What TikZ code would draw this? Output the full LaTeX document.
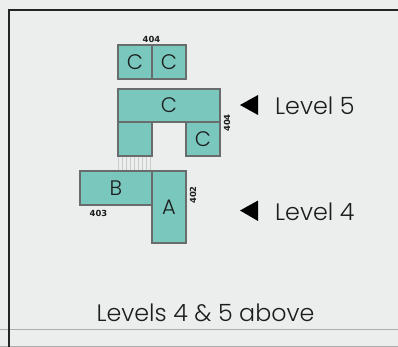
\documentclass[tikz,border=0pt]{standalone}
\usepackage{fontspec}
\setmainfont{Poppins}[UprightFont=* Light]
\newfontfamily\numfont{DejaVu Sans}[BoldFont=* Bold]
\definecolor{bgc}{RGB}{236,238,238}
\definecolor{roomc}{RGB}{122,199,189}
\definecolor{wallc}{RGB}{105,108,108}
\definecolor{inkc}{RGB}{28,30,30}
\tikzset{
  room/.style={draw=wallc,fill=roomc,line width=1.7pt,inner sep=0pt,outer sep=0pt,anchor=north west,font=\fontsize{21}{21}\selectfont,text=inkc},
  num/.style={font=\numfont\bfseries\fontsize{8.4}{8.4}\selectfont,text=inkc,inner sep=0pt},
  lab/.style={font=\fontsize{23.8}{24}\selectfont,text=inkc,inner sep=0pt},
  pointer/.style={fill=black,draw=none},
  hairline/.style={draw=black!27!bgc,line width=1pt},
  stripe/.style={draw=black!14!bgc,line width=1.3pt}
}
\begin{document}
\begin{tikzpicture}[x=1pt,y=-1pt]
\useasboundingbox (0,0) rectangle (398,347);
\fill[bgc] (0,0) rectangle (398,347);
% page rules
\coordinate (hl) at (0,329); \coordinate (hr) at (398,329);
\coordinate (gl) at (0,346.5); \coordinate (gr) at (398,346.5);
\draw[hairline] (hl) -- (hr);
\draw[hairline] (gl) -- (gr);
% frame
\coordinate (fb) at (9,347); \coordinate (ft) at (9,10); \coordinate (fr) at (398,10);
\draw[draw=black!85!bgc,line width=1.6pt] (fb) -- (ft) -- (fr);
% stripes
\foreach \x in {118.5,122.5,...,152.5}{\draw[stripe] (\x,156) -- (\x,171);}
% rooms
\node[room,minimum width=34pt,minimum height=34pt] (c1) at (118,45) {C};
\node[room,minimum width=34pt,minimum height=34pt] (c2) at (152,45) {C};
\node[room,minimum width=102pt,minimum height=33pt] (c3) at (118,89) {C};
\node[room,minimum width=34pt,minimum height=34pt] (c4) at (118,122) {};
\node[room,minimum width=34pt,minimum height=34pt] (c5) at (186,122) {C};
\node[room,minimum width=72pt,minimum height=34pt] (b) at (80,171) {B};
\node[room,minimum width=34pt,minimum height=72pt] (a) at (152,171) {A};
% numbers
\node[num] (n1) at (151.5,39.5) {404};
\node[num,rotate=90] (n2) at (227,123) {404};
\node[num,rotate=90] (n3) at (193,195) {402};
\node[num] (n4) at (98.5,213) {403};
% pointers
\fill[pointer] (240,105) -- (258,95) -- (258,115) -- cycle;
\fill[pointer] (240,210.5) -- (258,200.5) -- (258,221) -- cycle;
% labels
\node[lab,anchor=base west] (l5) at (275,115) {Level 5};
\node[lab,anchor=base west] (l4) at (275,220) {Level 4};
\node[lab,anchor=base] (cap) at (205.5,321) {Levels 4 \& 5 above};
\end{tikzpicture}
\end{document}
